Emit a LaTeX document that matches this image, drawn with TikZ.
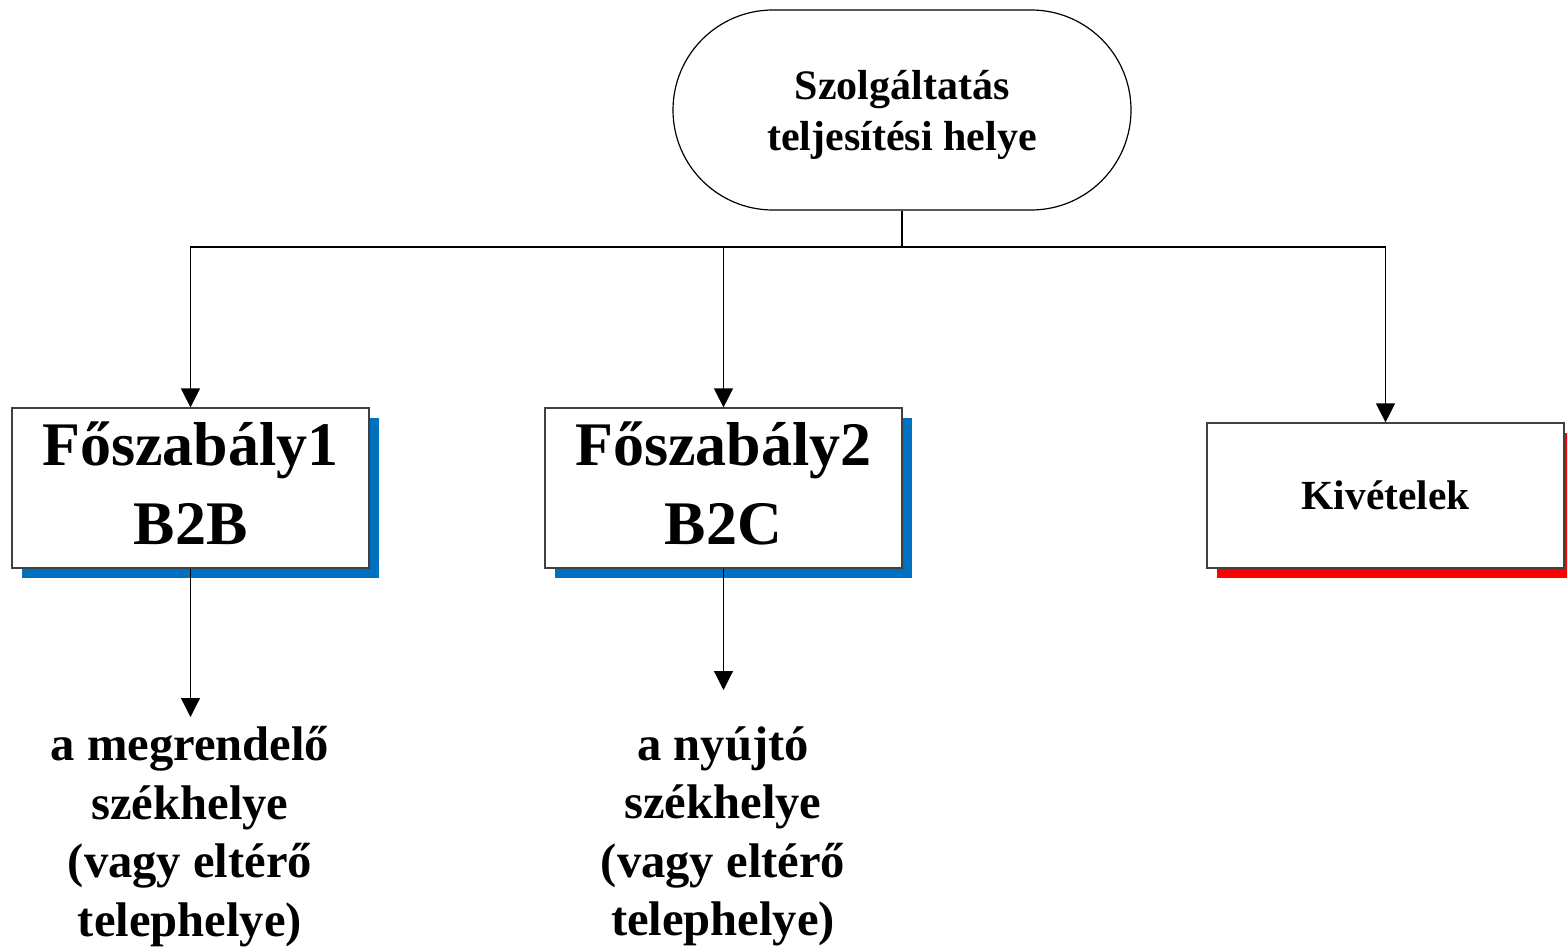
\documentclass[tikz,border=0pt]{standalone}
\usepackage{fontspec}
\setmainfont{Liberation Serif}
\usetikzlibrary{arrows.meta,shadows}
\definecolor{shblue}{RGB}{0,112,192}
\definecolor{shred}{RGB}{255,0,0}
\newcommand{\twolines}[4]{\raisebox{#1}[\height][\depth]{\begin{tabular}{@{}c@{}}#3\\[#2]#4\end{tabular}}}
\begin{document}
\begin{tikzpicture}[x=0.5pt,y=-0.5pt,
  line/.style={draw=black, line width=0.6pt},
  arr/.style={line, -{Triangle[width=9.5pt,length=9.5pt]}},
  boxnode/.style={draw=black!75, line width=0.6pt, fill=white, minimum width=178.5pt,
     minimum height=80pt, inner sep=0pt, font=\bfseries\fontsize{31}{37.5}\selectfont},
  blueshadow/.style={drop shadow={shadow xshift=5pt, shadow yshift=-5pt, fill=shblue, opacity=1}},
  redshadow/.style={drop shadow={shadow xshift=5pt, shadow yshift=-5pt, fill=shred, opacity=1}},
  plain/.style={inner sep=0pt, align=center, font=\bfseries\fontsize{24.3}{29.25}\selectfont}]
\clip (0,0) rectangle (1567,947);
\fill[white] (0,0) rectangle (1567,947);
\node[draw=black, line width=0.6pt, fill=white, rounded corners=50pt, minimum width=229pt,
  minimum height=100pt, inner sep=0pt,
  font=\bfseries\fontsize{21}{25}\selectfont] (top) at (902,110) {\twolines{-2.5pt}{0pt}{Szolgáltatás}{teljesítési helye}};
\node[boxnode, blueshadow] (b1) at (190.5,488) {\twolines{-1pt}{2pt}{Főszabály1}{B2B}};
\node[boxnode, blueshadow] (b2) at (723.5,488) {\twolines{-1pt}{2pt}{Főszabály2}{B2C}};
\node[boxnode, redshadow, minimum height=72.5pt, font=\bfseries\fontsize{20.7}{25}\selectfont] (b3) at (1385.5,495.5) {Kivételek};
\coordinate (j) at (902,247);
\draw[line] (top.south) -- (j);
\draw[arr] (j) -| (b1.north);
\draw[arr] (j) -| (b2.north);
\draw[arr] (j) -| (b3.north);
\node[plain, anchor=north] (t1) at (190,726) {a megrendelő\\székhelye\\(vagy eltérő\\telephelye)};
\node[plain, anchor=north] (t2) at (723,726) {a nyújtó\\székhelye\\(vagy eltérő\\telephelye)};
\coordinate (tip1) at (190.5,717);
\coordinate (tip2) at (723.5,690);
\draw[arr] (b1.south) -- (tip1);
\draw[arr] (b2.south) -- (tip2);
\end{tikzpicture}
\end{document}
